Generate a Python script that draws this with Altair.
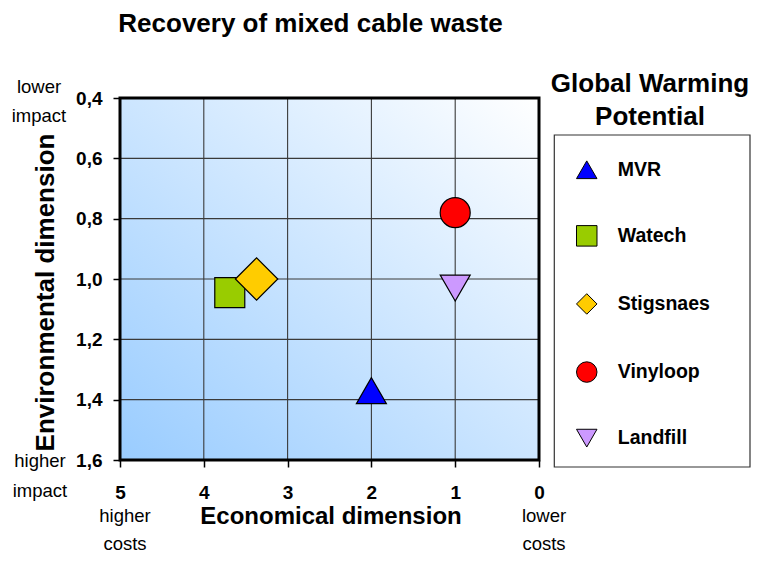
import altair as alt
import pandas as pd

FONT = "Liberation Sans"

# ---- data ----
NAMES = ["MVR", "Watech", "Stigsnaes", "Vinyloop", "Landfill"]
ECON = [2.0, 3.69, 3.37, 1.0, 1.0]
ENV = [1.37, 1.045, 1.0, 0.78, 1.03]
SHAPES = ["triangle-up", "square", "diamond", "circle", "triangle-down"]
COLORS = ["#0000FF", "#99CC00", "#FFCC00", "#FF0000", "#CC99FF"]
OUTLINES = ["black", "black", "black", "black", "black"]

X_TICKS = [5, 4, 3, 2, 1, 0]
Y_TICKS = [0.4, 0.6, 0.8, 1.0, 1.2, 1.4, 1.6]
X_GRID = [4, 3, 2, 1]
Y_GRID = [0.6, 0.8, 1.0, 1.2, 1.4]

TITLE = "Recovery of mixed cable waste"
X_TITLE = "Economical dimension"
Y_TITLE = "Environmental dimension"
LEGEND_TITLE = ["Global Warming", "Potential"]
Y_TOP_NOTE = ["lower", "impact"]
Y_BOTTOM_NOTE = ["higher", "impact"]
X_LEFT_NOTE = ["higher", "costs"]
X_RIGHT_NOTE = ["lower", "costs"]

W, H = 419, 362

points = pd.DataFrame({"name": NAMES, "econ": ECON, "env": ENV})
one = pd.DataFrame({"k": [0]})

xs = alt.Scale(domain=[0, 5], reverse=True, nice=False, zero=False)
ys = alt.Scale(domain=[0.4, 1.6], reverse=True, nice=False, zero=False)

AX = alt.Axis(
    values=X_TICKS, format="d", grid=False, domain=False,
    tickColor="black", tickWidth=1.5, tickSize=7,
    labelFont=FONT, labelFontSize=19, labelFontWeight="bold",
    labelColor="black", labelPadding=16, labelFlush=False,
    labelOverlap=False,
    title=X_TITLE, titleFont=FONT, titleFontSize=24,
    titleFontWeight="bold", titleColor="black",
    titleX=210.5, titleY=63, titleBaseline="alphabetic",
    titleAlign="center", zindex=1,
)
AY = alt.Axis(
    values=Y_TICKS, grid=False, domain=False,
    labelExpr="replace(format(datum.value, '.1f'), '.', ',')",
    tickColor="black", tickWidth=1.5, tickSize=7,
    labelFont=FONT, labelFontSize=19, labelFontWeight="bold",
    labelColor="black", labelPadding=11, labelOverlap=False,
    labelFlush=False,
    title=Y_TITLE, titleFont=FONT, titleFontSize=26,
    titleFontWeight="bold", titleColor="black",
    titleX=-67, titleY=194, titleBaseline="alphabetic",
    titleAlign="center", titleAngle=270, zindex=1,
)

background = alt.Chart(one).mark_rect(
    fill=alt.Gradient(
        gradient="linear",
        stops=[alt.GradientStop(color="#99CCFF", offset=0),
               alt.GradientStop(color="#FFFFFF", offset=1)],
        x1=0, y1=1, x2=1, y2=0,
    )
).encode(x=alt.value(0), x2=alt.value(W), y=alt.value(0), y2=alt.value(H))

xgrid = alt.Chart(pd.DataFrame({"v": X_GRID})).mark_rule(
    color="#3a3a3a", strokeWidth=1.1
).encode(x=alt.X("v:Q", scale=xs, axis=AX))

ygrid = alt.Chart(pd.DataFrame({"v": Y_GRID})).mark_rule(
    color="#3a3a3a", strokeWidth=1.1
).encode(y=alt.Y("v:Q", scale=ys, axis=AY))

border = alt.Chart(one).mark_rect(
    fillOpacity=0, stroke="black", strokeWidth=3
).encode(x=alt.value(0), x2=alt.value(W), y=alt.value(0), y2=alt.value(H))

legend_box = alt.Chart(one).mark_rect(
    fill="white", stroke="#333333", strokeWidth=1.2
).encode(x=alt.value(434.3), x2=alt.value(630), y=alt.value(37), y2=alt.value(369))


def txt(text, x, y, size, weight="bold", line_height=30):
    return alt.Chart(one).mark_text(
        text=text, font=FONT, fontSize=size, fontWeight=weight,
        align="center", baseline="alphabetic", color="black",
        lineHeight=line_height,
    ).encode(x=alt.value(x), y=alt.value(y))


title = txt(TITLE, 190.5, -66, 26)
leg_title = txt(LEGEND_TITLE, 530, -6, 26, line_height=33)
note_tl = txt(Y_TOP_NOTE, -81, -5.5, 18.5, "normal", 29.5)
note_bl = txt(Y_BOTTOM_NOTE, -80, 369, 18.5, "normal", 30)
note_xl = txt(X_LEFT_NOTE, 5, 424, 18.5, "normal", 28)
note_xr = txt(X_RIGHT_NOTE, 424, 424, 18.5, "normal", 28)

leg = alt.Legend(
    orient="none", legendX=455.75, legendY=60.75, title=None, padding=0,
    symbolSize=420, symbolStrokeWidth=1,
    symbolOpacity=1, labelFont=FONT, labelFontSize=19.5,
    labelFontWeight="bold", labelColor="black", labelOffset=20,
    rowPadding=42.1, direction="vertical",
)

enc = dict(
    x=alt.X("econ:Q", scale=xs, axis=AX),
    y=alt.Y("env:Q", scale=ys, axis=AY),
    fill=alt.Fill("name:N", scale=alt.Scale(domain=NAMES, range=COLORS), legend=leg),
    shape=alt.Shape("name:N", scale=alt.Scale(domain=NAMES, range=SHAPES), legend=leg),
    stroke=alt.Stroke("name:N", scale=alt.Scale(domain=NAMES, range=OUTLINES), legend=leg),
    strokeWidth=alt.value(1.2),
)

pts = alt.Chart(points).mark_point(
    filled=True, opacity=1, size=900
).encode(**enc).transform_filter(alt.datum.name != "Stigsnaes")

pts_diamond = alt.Chart(points).mark_point(
    filled=True, opacity=1, size=1800
).encode(**enc).transform_filter(alt.datum.name == "Stigsnaes")

chart = alt.layer(
    background, xgrid, ygrid, border, legend_box,
    title, leg_title, note_tl, note_bl, note_xl, note_xr, pts, pts_diamond,
).properties(
    width=W, height=H,
    autosize=alt.AutoSizeParams(type="none"),
    padding={"left": 112, "top": 90, "right": 212, "bottom": 95},
    background="white",
).configure_view(strokeWidth=0)

chart.save("out.html", embed_options={"renderer": "svg", "actions": False})
